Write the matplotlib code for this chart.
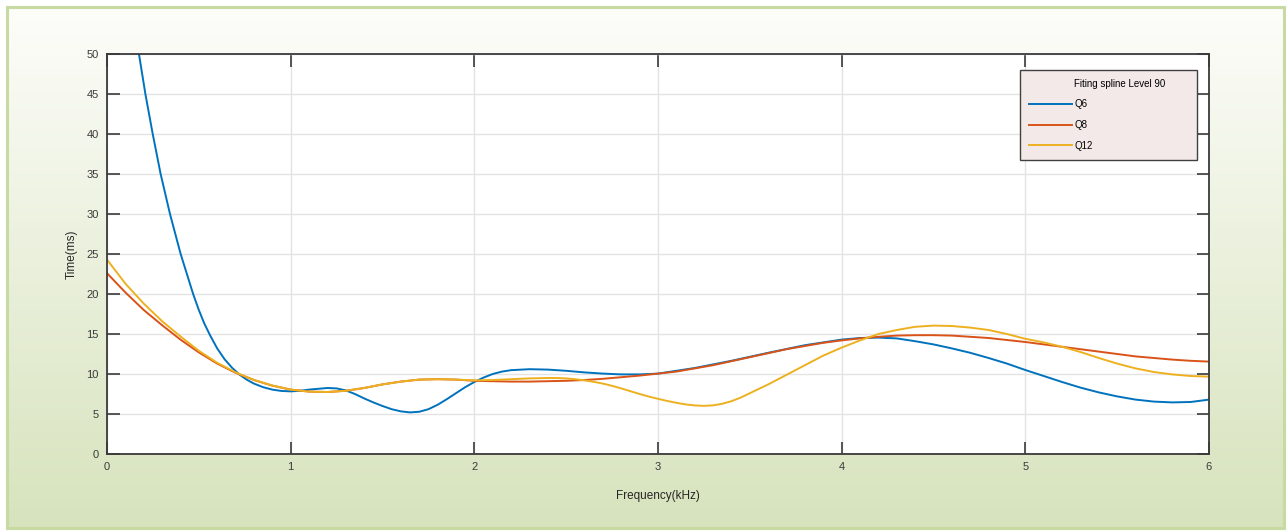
import numpy as np
import matplotlib
matplotlib.use('Agg')
import matplotlib.pyplot as plt
from matplotlib.lines import Line2D
from matplotlib.patches import Rectangle

plt.rcParams['font.family'] = ['Liberation Sans', 'DejaVu Sans']

# Q6 spline (steep start, read at uneven steps)
freq_q6 = [0.0, 0.1, 0.174, 0.209, 0.249, 0.292, 0.343, 0.401, 0.469, 0.5,
           0.53, 0.562, 0.6, 0.64, 0.68, 0.72, 0.76, 0.8, 0.85, 0.9, 0.95,
           1.0, 1.05, 1.1, 1.2, 1.25, 1.3, 1.35, 1.4, 1.45, 1.5, 1.55, 1.6,
           1.65, 1.7, 1.75, 1.8, 1.85, 1.9, 1.95, 2.0, 2.05, 2.1, 2.15, 2.2,
           2.3, 2.4, 2.5, 2.6, 2.7, 2.8, 2.9, 3.0, 3.2, 3.4, 3.6, 3.8, 4.0,
           4.1, 4.2, 4.3, 4.4, 4.5, 4.6, 4.7, 4.8, 4.9, 5.0, 5.1, 5.2, 5.3,
           5.4, 5.5, 5.6, 5.7, 5.8, 5.9, 6.0]
time_q6 = [79.0, 61.5, 50.0, 45.0, 40.0, 35.0, 30.0, 25.0, 20.0, 18.0,
           16.3, 14.8, 13.2, 11.85, 10.8, 9.95, 9.3, 8.8, 8.35, 8.05, 7.88,
           7.83, 7.9, 8.05, 8.25, 8.2, 7.95, 7.5, 6.95, 6.45, 6.0, 5.6, 5.33,
           5.2, 5.28, 5.6, 6.15, 6.85, 7.6, 8.35, 9.0, 9.55, 10.0, 10.3, 10.48,
           10.6, 10.55, 10.4, 10.2, 10.05, 9.95, 9.95, 10.05, 10.75, 11.65,
           12.65, 13.6, 14.3, 14.5, 14.55, 14.45, 14.1, 13.7, 13.2, 12.65,
           12.0, 11.3, 10.5, 9.75, 9.0, 8.3, 7.7, 7.2, 6.8, 6.55, 6.45, 6.5,
           6.8]

# Q8 on a 0.1 kHz step
freq_q8 = [round(0.1 * i, 1) for i in range(61)]
time_q8 = [22.6, 20.2, 18.0, 16.1, 14.3, 12.7, 11.3, 10.15, 9.25, 8.55, 8.05,
           7.8, 7.75, 7.9, 8.25, 8.7, 9.05, 9.3, 9.35, 9.3, 9.15,
           9.1, 9.05, 9.05, 9.1, 9.15, 9.25, 9.4, 9.6, 9.8, 10.05,
           10.3, 10.7, 11.1, 11.6, 12.1, 12.6, 13.1, 13.5, 13.9, 14.2,
           14.45, 14.65, 14.8, 14.85, 14.85, 14.8, 14.65, 14.5, 14.25, 14.0,
           13.7, 13.4, 13.1, 12.8, 12.5, 12.2, 12.0, 11.8, 11.65, 11.55]

# Q12, finer step around the dip near 3.2 kHz
freq_q12 = ([round(0.1 * i, 1) for i in range(24)]
            + [round(2.4 + 0.05 * i, 2) for i in range(25)]
            + [round(3.7 + 0.1 * i, 1) for i in range(24)])
time_q12 = [24.3, 21.3, 18.8, 16.6, 14.7, 12.9, 11.4, 10.2, 9.25, 8.55, 8.05,
            7.8, 7.75, 7.9, 8.25, 8.7, 9.05, 9.3, 9.35, 9.3, 9.2,
            9.25, 9.35, 9.45,
            9.5, 9.5, 9.45, 9.35, 9.2, 9.02, 8.8, 8.52, 8.2, 7.85, 7.5, 7.18,
            6.9, 6.63, 6.4, 6.2, 6.07, 6.02, 6.08, 6.28, 6.6, 7.05, 7.6, 8.15,
            8.7,
            9.9, 11.1, 12.3, 13.3,
            14.2, 15.0, 15.5, 15.9, 16.05, 16.0, 15.8, 15.5, 15.0, 14.4,
            13.95, 13.4, 12.75, 12.0, 11.3, 10.7, 10.25, 9.95, 9.75, 9.67]

labels = ['Q6', 'Q8', 'Q12']
colors = ['#0072BD', '#D95319', '#EDB120']
legend_title = 'Fiting spline Level 90'

W, H = 1287, 531
fig = plt.figure(figsize=(W / 100, H / 100), dpi=100)
fig.patch.set_facecolor('white')

# green panel behind the axes
bg = fig.add_axes([0, 0, 1, 1])
bg.set_xlim(0, W)
bg.set_ylim(H, 0)
bg.axis('off')
top = np.array([253, 253, 250]) / 255
bot = np.array([215, 227, 189]) / 255
t = np.linspace(0, 1, 256)[:, None, None]
grad = top * (1 - t) + bot * t
bg.imshow(grad, extent=(8, 1284, 528, 8), aspect='auto', zorder=0)
bg.add_patch(Rectangle((7, 7), 1277, 521, fill=False, edgecolor='#c6daa2',
                       linewidth=2.2, zorder=1))

ax = fig.add_axes([107 / W, 1 - 454 / H, 1102 / W, 400 / H])
ax.set_facecolor('white')

l1, = ax.plot(freq_q6, time_q6, color=colors[0], lw=1.4)
l2, = ax.plot(freq_q8, time_q8, color=colors[1], lw=1.4)
l3, = ax.plot(freq_q12, time_q12, color=colors[2], lw=1.4)

ax.set_xlim(0, 6)
ax.set_ylim(0, 50)
ax.set_xticks(range(0, 7))
ax.set_yticks(range(0, 51, 5))
ax.grid(True, color='#e3e3e3', lw=1.0)
ax.set_axisbelow(True)
ax.tick_params(direction='in', length=9, width=1.2, colors='#3a3a3a',
               labelsize=8, top=True, right=True, pad=6)
for s in ax.spines.values():
    s.set_color('#3a3a3a')
    s.set_linewidth(1.3)

ax.set_xlabel('Frequency(kHz)', fontsize=8.5, color='#262626', labelpad=13)
ax.set_ylabel('Time(ms)', fontsize=8.5, color='#262626', labelpad=6)

title_handle = Line2D([], [], color='none')
leg = ax.legend([title_handle, l1, l2, l3], [legend_title] + labels,
                loc='upper left', bbox_to_anchor=(0.8285, 0.735, 0.1605, 0.225),
                mode='expand', borderaxespad=0, fontsize=7, handlelength=4.4,
                handletextpad=0.3, labelspacing=1.1, fancybox=False,
                framealpha=1, borderpad=0.9)
leg.get_frame().set_facecolor('#f4e9e9')
leg.get_frame().set_edgecolor('#404040')
leg.get_frame().set_linewidth(1.0)

fig.savefig('out.png', dpi=100)
